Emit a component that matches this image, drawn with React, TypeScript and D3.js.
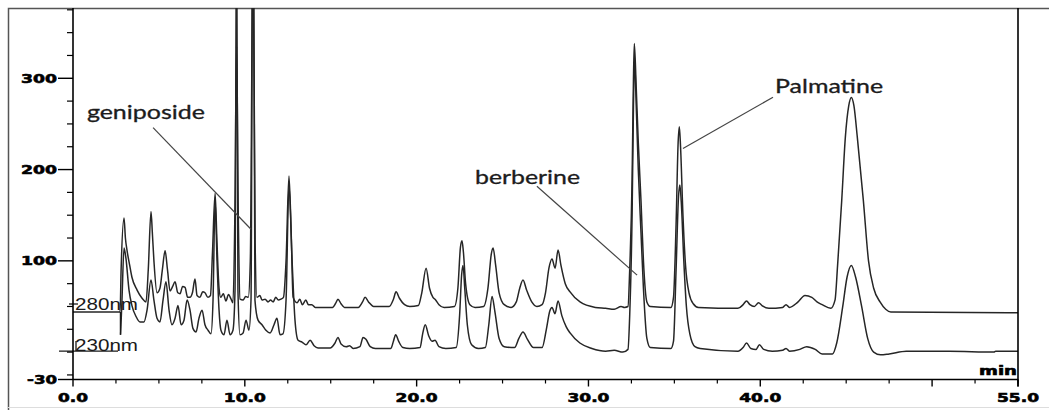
import * as d3 from "d3";

// HPLC chromatogram, two detection wavelengths. [time (min), signal (mAU)]
const trace280: [number, number][] = [
  [0, 44], [2.74, 44], [2.8, 90], [2.97, 147], [3.05, 125], [3.14, 112], [3.3, 95], [3.43, 82],
  [3.73, 68], [4.02, 59], [4.25, 55], [4.38, 90], [4.54, 154], [4.62, 130], [4.71, 100], [4.89, 65],
  [5.06, 70], [5.2, 90], [5.36, 111], [5.5, 90], [5.65, 67], [5.8, 72], [5.94, 77], [6.1, 65],
  [6.23, 64], [6.38, 72], [6.52, 71], [6.67, 60], [6.81, 60], [6.95, 65], [7.1, 80], [7.22, 62],
  [7.39, 60], [7.55, 66], [7.68, 65], [7.85, 60], [8.0, 62], [8.12, 110], [8.27, 174], [8.38, 120],
  [8.5, 70], [8.6, 60], [8.75, 64], [8.9, 56], [9.05, 63], [9.2, 58], [9.31, 54], [9.42, 150],
  [9.52, 335], [9.62, 150], [9.72, 58], [9.9, 57], [10.05, 61], [10.2, 60], [10.32, 100], [10.48, 460],
  [10.6, 120], [10.7, 60], [10.88, 62], [11.0, 57], [11.18, 58], [11.35, 55], [11.5, 57], [11.65, 55],
  [11.8, 60], [11.95, 57], [12.1, 58], [12.25, 60], [12.4, 100], [12.57, 193], [12.7, 130], [12.81, 60],
  [13.04, 54], [13.2, 58], [13.35, 52], [13.55, 57], [13.7, 52], [13.9, 52], [14.1, 49], [15.1, 49],
  [15.3, 54], [15.42, 58], [15.6, 53], [15.8, 49], [16.6, 49], [16.85, 55], [17.0, 60], [17.2, 55],
  [17.5, 50], [18.4, 50], [18.65, 58], [18.8, 66], [19.0, 59], [19.3, 52], [19.6, 50], [20.1, 51],
  [20.3, 65], [20.55, 92], [20.75, 70], [20.95, 60], [21.07, 58], [21.3, 52], [21.6, 49], [22.2, 50],
  [22.4, 70], [22.55, 115], [22.64, 122], [22.72, 110], [22.85, 75], [23.1, 52], [23.4, 49], [23.9, 50],
  [24.15, 70], [24.35, 108], [24.45, 114], [24.6, 95], [24.8, 65], [25.1, 52], [25.5, 49], [25.8, 55],
  [26.0, 70], [26.19, 79], [26.4, 68], [26.7, 55], [27.0, 50], [27.3, 52], [27.5, 65], [27.7, 92],
  [27.88, 102], [28.06, 92], [28.23, 112], [28.4, 95], [28.65, 75], [28.93, 66], [29.51, 55], [30.4, 49],
  [31.0, 48], [31.5, 47], [31.9, 50], [32.1, 49], [32.3, 50], [32.4, 90], [32.54, 190], [32.62, 300],
  [32.67, 338], [32.78, 290], [32.9, 230], [33.06, 165], [33.2, 100], [33.4, 55], [33.6, 50], [34.8, 49],
  [34.95, 60], [35.1, 140], [35.22, 230], [35.29, 247], [35.36, 225], [35.5, 150], [35.65, 95], [35.85, 65],
  [36.1, 53], [36.4, 49], [38.7, 48], [39.0, 52], [39.2, 56], [39.4, 52], [39.65, 50], [39.9, 54],
  [40.1, 51], [40.5, 48], [41.3, 49], [41.5, 52], [41.7, 49], [42.2, 55], [42.6, 62], [43.0, 60],
  [43.3, 55], [43.6, 52], [44.1, 48], [44.35, 57], [44.5, 95], [44.74, 166], [44.95, 235], [45.15, 270],
  [45.3, 279], [45.45, 270], [45.65, 235], [46.0, 166], [46.3, 100], [46.6, 70], [46.97, 55], [47.3, 47],
  [47.6, 44], [55, 43],
];

const trace230: [number, number][] = [
  [2.77, 19], [2.85, 57], [2.97, 114], [3.08, 103], [3.26, 68], [3.43, 51], [3.67, 39], [3.9, 33],
  [4.13, 33], [4.31, 46], [4.54, 79], [4.71, 57], [4.89, 37], [5.06, 33], [5.24, 57], [5.41, 77],
  [5.59, 46], [5.76, 30], [5.94, 37], [6.11, 51], [6.29, 30], [6.46, 35], [6.64, 57], [6.81, 46],
  [6.98, 26], [7.16, 22], [7.33, 37], [7.51, 46], [7.68, 30], [7.86, 24], [8.03, 20], [8.15, 57],
  [8.27, 166], [8.38, 101], [8.5, 46], [8.61, 24], [8.79, 19], [8.96, 35], [9.14, 19], [9.31, 24],
  [9.43, 68], [9.52, 500], [9.6, 68], [9.72, 19], [9.9, 21], [10.07, 35], [10.24, 24], [10.36, 57],
  [10.48, 600], [10.59, 57], [10.77, 35], [11.0, 30], [11.23, 24], [11.47, 21], [11.7, 30], [11.87, 37],
  [12.05, 19], [12.22, 20], [12.4, 57], [12.57, 183], [12.75, 101], [12.92, 35], [13.1, 13], [13.33, 11],
  [13.56, 8], [13.8, 13], [14.03, 7], [14.26, 4.5], [14.96, 4.5], [15.25, 10], [15.42, 16], [15.6, 9],
  [15.9, 6], [16.1, 7], [16.3, 4], [16.7, 6], [16.88, 16], [17.05, 14], [17.3, 6], [17.6, 4],
  [18.5, 4], [18.65, 12], [18.78, 19], [18.95, 12], [19.2, 5], [19.6, 4], [20.2, 5], [20.35, 20],
  [20.5, 30], [20.7, 18], [20.9, 12], [21.07, 13], [21.3, 6], [21.7, 4], [22.3, 5], [22.5, 40],
  [22.62, 85], [22.7, 95], [22.8, 70], [22.95, 30], [23.2, 8], [23.6, 4], [24.0, 5], [24.2, 30],
  [24.39, 61], [24.55, 45], [24.8, 15], [25.1, 6], [25.7, 5], [25.95, 15], [26.19, 22], [26.45, 14],
  [26.8, 5], [27.3, 5], [27.55, 25], [27.75, 45], [27.88, 49], [28.05, 42], [28.23, 56], [28.45, 40],
  [28.7, 28], [28.93, 21], [29.5, 10], [30.2, 4], [31.0, 1], [31.5, 2], [32.0, 0], [32.3, 3],
  [32.4, 40], [32.54, 150], [32.62, 270], [32.68, 322], [32.78, 270], [32.9, 200], [33.06, 130], [33.2, 70],
  [33.4, 15], [33.6, 5], [34.8, 4], [34.95, 12], [35.1, 90], [35.24, 170], [35.32, 183], [35.4, 165],
  [35.55, 100], [35.7, 50], [35.9, 20], [36.2, 6], [36.5, 4], [38.7, 1], [39.0, 5], [39.2, 10],
  [39.45, 4], [39.75, 3], [39.95, 8], [40.2, 3], [40.7, 1], [41.3, 2], [41.5, 4], [41.7, 1],
  [42.3, 3], [42.7, 6], [43.2, 3], [43.6, -2], [44.2, -2], [44.45, 10], [44.8, 50], [45.05, 82],
  [45.3, 95], [45.55, 82], [45.9, 50], [46.25, 15], [46.6, 0], [47.0, -3], [47.5, -2], [48.5, 1],
  [51.0, 1], [53.6, 0], [53.7, 1], [55, 1],
];

const xLabelTimes = [0, 10, 20, 30, 40, 55];
const xLabelTexts = ["0.0", "10.0", "20.0", "30.0", "40.0", "55.0"];
const xMajorTicks = [0, 10, 20, 30, 40, 50, 55];
const yLabelValues = [-30, 100, 200, 300];

// peak annotations: name, text anchor (time, signal), leader line from/to (time, signal)
const peakNames = ["geniposide", "berberine", "Palmatine"];
const peakTextAt: [number, number][] = [[0.81, 255], [23.4, 184], [40.86, 283.6]];
const peakLineFrom: [number, number][] = [[4.66, 246], [27.0, 181.7], [40.74, 279.2]];
const peakLineTo: [number, number][] = [[10.36, 134.6], [32.83, 84.3], [35.5, 223]];

const W = 1049;
const H = 410;
const left = 73;
const right = 1018;
const top = 8;
const bottom = 379.5;

export default function App() {
  const x = d3.scaleLinear().domain([0, 55]).range([left, right]);
  const y = d3.scaleLinear().domain([-30, 377]).range([bottom, top]);

  const line = d3
    .line<[number, number]>()
    .x((d) => x(d[0]))
    .y((d) => y(d[1]))
    .curve(d3.curveMonotoneX);

  const minorX = d3.range(0, 55.01, 2.5).filter((t) => t % 10 !== 0);
  const minorY = d3.range(-25, 376, 25).filter((v) => v % 100 !== 0 || v === 0);

  // heavy, wide instrument-style axis font
  const axisText = {
    fontFamily: "'DejaVu Sans', Arial, sans-serif",
    fontWeight: "bold" as const,
    fontSize: 12.5,
    lengthAdjust: "spacingAndGlyphs",
    fill: "#000",
    stroke: "#000",
    strokeWidth: 0.6,
  };
  const ink = "#1a1a1a";

  return (
    <svg
      width={W}
      height={H}
      style={{ position: "absolute", left: 0, top: 0, background: "#fff" }}
    >
      <defs>
        <clipPath id="plot">
          <rect x={left} y={top} width={right - left} height={bottom - top} />
        </clipPath>
      </defs>

      {/* outer frame */}
      <path d={`M8.5,${H} V8.5 H${W}`} fill="none" stroke="#555" strokeWidth={1.5} />
      <line x1={8} x2={W} y1={H - 2.5} y2={H - 2.5} stroke="#ddd" />

      {/* traces */}
      <g clipPath="url(#plot)" fill="none" stroke="#262626" strokeWidth={1.5}>
        <path d={line(trace280) ?? ""} />
        <path d={line(trace230) ?? ""} />
      </g>

      {/* offset markers for the two wavelengths */}
      <line x1={59} x2={118} y1={y(1)} y2={y(1)} stroke={ink} strokeWidth={1.3} />
      <line x1={x(2.76)} x2={x(2.76)} y1={y(44)} y2={y(19)} stroke={ink} strokeWidth={1.3} />
      <line x1={69} x2={78} y1={304} y2={304} stroke={ink} strokeWidth={1.3} />
      <line x1={76} x2={76} y1={341} y2={351} stroke={ink} strokeWidth={1.3} />
      <text x={75} y={310} fontFamily="'Liberation Sans', Arial, sans-serif" fontSize={16.5}
        textLength={63} lengthAdjust="spacingAndGlyphs" fill={ink}>280nm</text>
      <text x={75} y={351} fontFamily="'Liberation Sans', Arial, sans-serif" fontSize={16.5}
        textLength={63} lengthAdjust="spacingAndGlyphs" fill={ink}>230nm</text>

      {/* axes */}
      <line x1={left} x2={left} y1={top} y2={bottom} stroke="#000" strokeWidth={1.6} />
      <line x1={left} x2={right} y1={bottom} y2={bottom} stroke="#000" strokeWidth={1.6} />
      <line x1={right} x2={right} y1={top} y2={bottom + 7} stroke="#000" strokeWidth={1.6} />

      {xMajorTicks.map((t) => (
        <line key={"xM" + t} x1={x(t)} x2={x(t)} y1={bottom} y2={bottom + 7} stroke="#000" strokeWidth={1.4} />
      ))}
      {minorX.map((t) => (
        <line key={"xm" + t} x1={x(t)} x2={x(t)} y1={bottom} y2={bottom + 4} stroke="#000" strokeWidth={1.2} />
      ))}
      {yLabelValues.map((v) => (
        <line key={"yM" + v} x1={left - 15} x2={left} y1={y(v)} y2={y(v)} stroke="#000" strokeWidth={1.4} />
      ))}
      {minorY.map((v) => (
        <line key={"ym" + v} x1={left - 6} x2={left} y1={y(v)} y2={y(v)} stroke="#000" strokeWidth={1.2} />
      ))}

      {xLabelTimes.map((t, i) => (
        <text key={"xl" + t} x={x(t)} y={401.5} textAnchor="middle" {...axisText}
          textLength={xLabelTexts[i].length === 3 ? 30 : 42}>{xLabelTexts[i]}</text>
      ))}
      {yLabelValues.map((v) => (
        <text key={"yl" + v} x={57} y={y(v) + 4.5} textAnchor="end" {...axisText}
          textLength={v < 0 ? 30 : 36}>{v}</text>
      ))}
      <text x={right - 1} y={375} textAnchor="end" {...axisText} textLength={38}>min</text>

      {/* peak annotations */}
      {peakNames.map((name, i) => (
        <g key={name}>
          <line x1={x(peakLineFrom[i][0])} y1={y(peakLineFrom[i][1])} x2={x(peakLineTo[i][0])}
            y2={y(peakLineTo[i][1])} stroke="#444" strokeWidth={1.2} />
          <text x={x(peakTextAt[i][0])} y={y(peakTextAt[i][1])} fontFamily="Lato, 'Open Sans', sans-serif"
            fontSize={18.5} textLength={name === "geniposide" ? 118 : name === "berberine" ? 105 : 108}
            lengthAdjust="spacingAndGlyphs" fill="#1c1c1c" stroke="#1c1c1c" strokeWidth={0.3}>{name}</text>
        </g>
      ))}
    </svg>
  );
}
